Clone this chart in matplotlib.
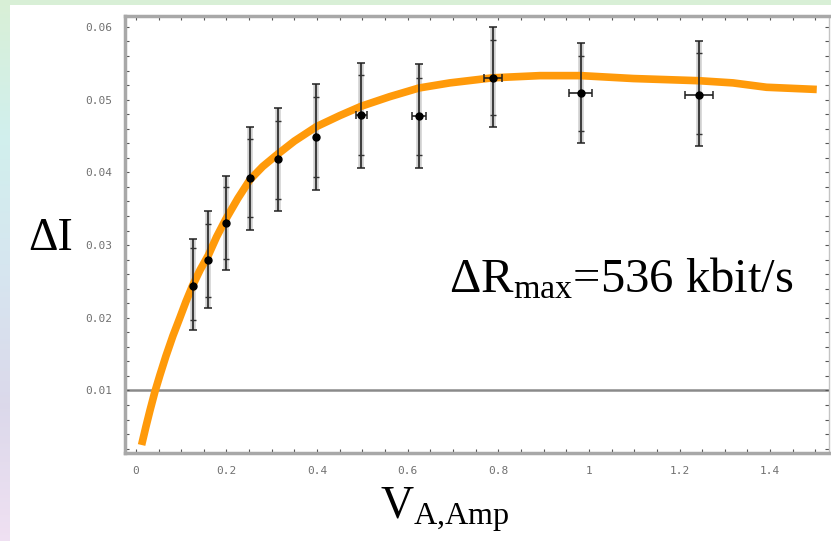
import numpy as np
import matplotlib
matplotlib.use('Agg')
from matplotlib import pyplot as plt
from matplotlib.patches import Rectangle
from matplotlib.ticker import MultipleLocator, FixedLocator

W, H = 831, 541

# measured points: amplitude and information gain
v_amp = [0.125, 0.160, 0.198, 0.252, 0.313, 0.397, 0.498, 0.625, 0.788, 0.982, 1.243]
di = [0.0244, 0.0280, 0.0331, 0.0392, 0.0418, 0.0448, 0.0479, 0.0478, 0.0530, 0.0509, 0.0507]
v_err = [0.0, 0.0, 0.0, 0.0, 0.0, 0.0, 0.012, 0.016, 0.020, 0.025, 0.031]

# outer error limits
di_hi = [0.0308, 0.0347, 0.0395, 0.0463, 0.0488, 0.0522, 0.0551, 0.0549, 0.0600, 0.0578, 0.0581]
di_lo = [0.0183, 0.0213, 0.0266, 0.0321, 0.0347, 0.0376, 0.0406, 0.0406, 0.0462, 0.0440, 0.0436]
# inner error limits
di_hi2 = [0.0296, 0.0329, 0.0380, 0.0446, 0.0471, 0.0504, 0.0534, 0.0530, 0.0582, 0.0560, 0.0564]
di_lo2 = [0.0197, 0.0229, 0.0281, 0.0338, 0.0364, 0.0394, 0.0424, 0.0424, 0.0479, 0.0457, 0.0453]

# fitted curve
fit_v = [0.0126, 0.0221, 0.0309, 0.0419, 0.0530, 0.0662, 0.0817, 0.0971, 0.1104, 0.125,
         0.142, 0.160, 0.178, 0.198, 0.225, 0.252, 0.280, 0.311, 0.350, 0.399, 0.450, 0.498,
         0.560, 0.625, 0.693, 0.788, 0.892, 0.982, 1.098, 1.243, 1.318, 1.392, 1.503]
fit_di = [0.0025, 0.0050, 0.0072, 0.0098, 0.0121, 0.0147, 0.0175, 0.0200, 0.0222, 0.0244,
          0.0266, 0.0286, 0.0311, 0.0335, 0.0364, 0.0390, 0.0408, 0.0424, 0.0443, 0.0463,
          0.0478, 0.0491, 0.0504, 0.0516, 0.0523, 0.0530, 0.0533, 0.0533, 0.0529, 0.0526,
          0.0523, 0.0517, 0.0514]

y_ticks = [0.01, 0.02, 0.03, 0.04, 0.05, 0.06]
y_labels = ['0.01', '0.02', '0.03', '0.04', '0.05', '0.06']
x_ticks = [0, 0.2, 0.4, 0.6, 0.8, 1.0, 1.2, 1.4]
x_labels = ['0', '0.2', '0.4', '0.6', '0.8', '1', '1.2', '1.4']

plt.rcParams['mathtext.fontset'] = 'custom'
plt.rcParams['mathtext.rm'] = 'Liberation Serif'
plt.rcParams['mathtext.it'] = 'Liberation Serif:italic'

fig = plt.figure(figsize=(W / 100, H / 100), dpi=100)

# pastel background behind the white sheet
bg = fig.add_axes([0, 0, 1, 1], zorder=-10)
stops = np.array([[0.85, 0.94, 0.84], [0.82, 0.94, 0.93], [0.84, 0.90, 0.94],
                  [0.86, 0.85, 0.92], [0.94, 0.88, 0.95]])
t = np.linspace(0, 1, 200)
col = np.stack([np.interp(t, np.linspace(0, 1, len(stops)), stops[:, k]) for k in range(3)], axis=-1)
bg.imshow(col[:, None, :], aspect='auto', extent=[0, 1, 0, 1])
bg.axis('off')
fig.patches.append(Rectangle((10 / W, 0), 1, 1 - 5 / H, transform=fig.transFigure,
                             facecolor='white', edgecolor='none', zorder=-5))

ax = fig.add_axes([125 / W, 1 - 453 / H, (829 - 125) / W, (453 - 16) / H])
ax.set_facecolor('white')
ax.set_xlim(-0.024, 1.530)
ax.set_ylim(0.0014, 0.0615)

ax.axhline(0.01, color='#8a8a8a', lw=1.8, zorder=1)
ax.plot(fit_v, fit_di, color='#ff9a0a', lw=5.5, solid_capstyle='butt',
        solid_joinstyle='round', zorder=2)

v = np.array(v_amp)
d = np.array(di)
yerr_out = [d - np.array(di_lo), np.array(di_hi) - d]
yerr_in = [d - np.array(di_lo2), np.array(di_hi2) - d]

# soft halo under the bars
ax.errorbar(v, d, yerr=yerr_out, fmt='none', ecolor='#d0d0d0', elinewidth=4, capsize=0, zorder=1.5)
ax.errorbar(v, d, yerr=yerr_out, xerr=v_err, fmt='none', ecolor='#222222', elinewidth=1.2,
            capsize=3.2, capthick=1.1, zorder=3)
ax.errorbar(v, d, yerr=yerr_in, fmt='none', ecolor='#333333', elinewidth=0,
            capsize=2.4, capthick=1.0, zorder=3)
ax.plot(v, d, 'o', color='black', ms=5, zorder=4)

for side in ['left', 'top', 'bottom']:
    ax.spines[side].set_color('#a8a8a8')
    ax.spines[side].set_linewidth(2.5)
ax.spines['right'].set_color('#c4c4c4')
ax.spines['right'].set_linewidth(1.0)

ax.xaxis.set_major_locator(FixedLocator(x_ticks))
ax.set_xticklabels(x_labels)
ax.xaxis.set_minor_locator(MultipleLocator(0.05))
ax.yaxis.set_major_locator(FixedLocator(y_ticks))
ax.set_yticklabels(y_labels)
ax.yaxis.set_minor_locator(MultipleLocator(0.002))
ax.tick_params(which='both', direction='in', top=True, right=True, length=3, width=0.8,
               color='#555555')
ax.tick_params(axis='both', labelsize=8, labelcolor='#707070', pad=9)
for lab in ax.get_xticklabels() + ax.get_yticklabels():
    lab.set_family('DejaVu Sans Mono')

serif = 'Liberation Serif'
fig.text(28 / W, 1 - 250 / H, 'ΔI', family=serif, fontsize=33, va='baseline', ha='left')
fig.text(380 / W, 1 - 519 / H, r'V$_{\mathrm{A{,}Amp}}$', family=serif, fontsize=33,
         va='baseline', ha='left')
fig.text(449 / W, 1 - 292 / H, r'ΔR$_{\mathrm{max}}$=536 kbit/s', family=serif, fontsize=35,
         va='baseline', ha='left')

fig.savefig('out.png', dpi=100)
